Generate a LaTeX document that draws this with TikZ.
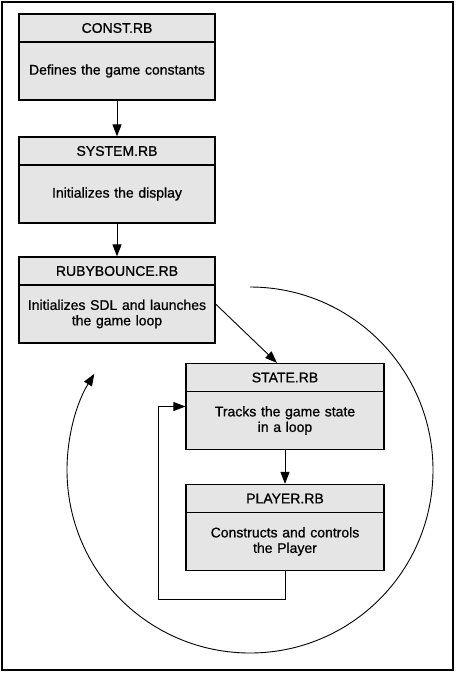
\documentclass[tikz,border=0pt]{standalone}
\usepackage{xcolor}
\usepackage{fontspec}
\setmainfont{Liberation Sans}[BoldFont=Liberation Sans, BoldFeatures={FakeBold=0.8}]
\usepackage{tikz}
\usetikzlibrary{shapes,arrows.meta,positioning}
\tikzstyle{header} = [rectangle, draw, fill=black!10, line width=1.2pt,
    minimum width=196pt, minimum height=28pt, inner sep=0pt,
    font=\fontsize{14}{15.5}\selectfont\bfseries]
\tikzstyle{body} = [rectangle, draw, fill=black!10, line width=1.2pt,
    minimum width=196pt, minimum height=58pt, inner sep=0pt, text width=192pt,
    align=center, font=\fontsize{14}{15.5}\selectfont\bfseries]
\tikzstyle{line} = [draw, line width=0.9pt, -{Triangle[length=12pt,width=9pt]}]

\begin{document}
\begin{tikzpicture}[x=1pt, y=-1pt, node distance = 43pt]
    \useasboundingbox (0,0) rectangle (456,673);
    \draw [line width=2pt] (2,2) rectangle (453,670);

    % Place nodes
    \node [header] (hdr_const) at (117,28) {CONST.RB};
    \node [body, below of=hdr_const] (body_const) {Defines the game constants};
    \node [header, below of=hdr_const, node distance=123pt] (hdr_system) {SYSTEM.RB};
    \node [body, below of=hdr_system] (body_system) {Initializes the display};
    \node [header, below of=hdr_system, node distance=120pt] (hdr_ruby) {RUBYBOUNCE.RB};
    \node [body, below of=hdr_ruby] (body_ruby) {Initializes SDL and launches\\the game loop};
    \node [header, minimum width=198pt] (hdr_state) at (285,377.5) {STATE.RB};
    \node [body, minimum width=198pt, below of=hdr_state] (body_state) {Tracks the game state\\in a loop};
    \node [header, minimum width=198pt, below of=hdr_state, node distance=121pt] (hdr_player) {PLAYER.RB};
    \node [body, minimum width=198pt, below of=hdr_player] (body_player) {Constructs and controls\\the Player};
    \coordinate (loop_start) at (250,287);

    \path [line] (body_const) -- (hdr_system);
    \path [line] (body_system) -- (hdr_ruby);
    \path [line] ([yshift=10pt]body_ruby.east) -- ([xshift=-8pt]hdr_state.north);
    \path [line] (body_state) -- (hdr_player);
    \path [line] (body_player.south) -- ++(0,28) -| ([shift={(-27pt,14pt)}]body_state.west) -- ([yshift=14pt]body_state.west);
    \path [line] (loop_start) arc [start angle=90, end angle=-211.7, radius=183pt];
\end{tikzpicture}
\end{document}
